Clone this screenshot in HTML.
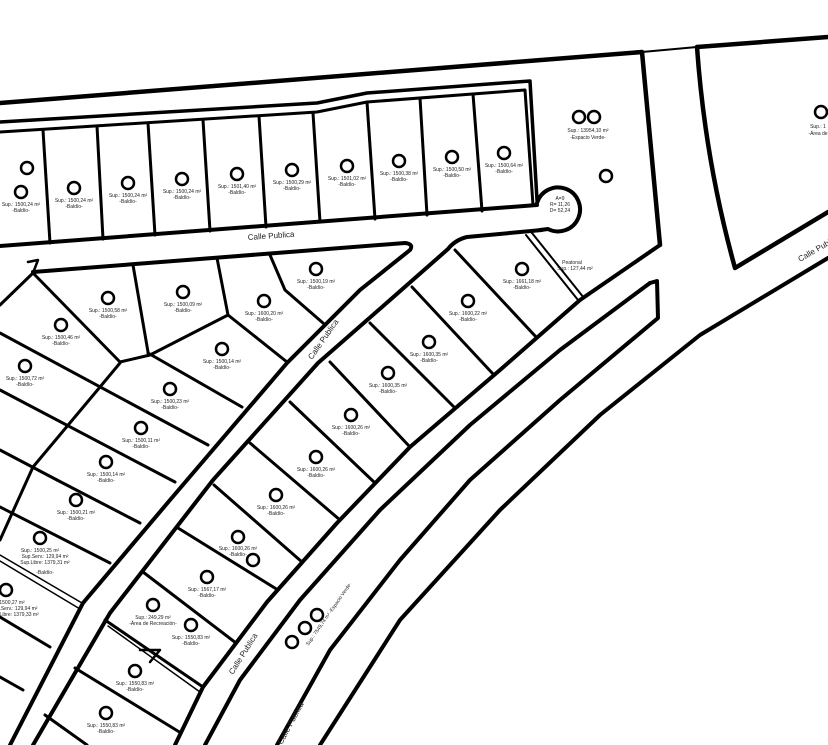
<!DOCTYPE html>
<html><head><meta charset="utf-8"><style>
html,body{margin:0;padding:0;background:#fff;}
svg{display:block;}
text{font-family:"Liberation Sans",sans-serif;fill:#222;}
.t{font-size:5px;text-anchor:middle;}
.c{font-size:8px;}
</style></head><body>
<svg width="828" height="745" viewBox="0 0 828 745" xmlns="http://www.w3.org/2000/svg">
<rect width="828" height="745" fill="#fff"/>
<g fill="none" stroke="#000" stroke-linejoin="round" stroke-linecap="round">
<polyline stroke-width="4.5" points="0,103 642,52 660,245"/>
<polyline stroke-width="2" points="642,52 697,47"/>
<polyline stroke-width="4.5" points="697,47 828,37"/>
<path stroke-width="4.5" d="M697,47 Q705,160 735,268 L828,212"/>
<polyline stroke-width="3.5" points="0,122 317,103 367,93 530,81 537,200"/>
<polyline stroke-width="3" points="0,132 317,112 367,102 525,90 533,205"/>
<polyline stroke-width="4" points="0,246 537,205"/>
<g stroke-width="3">
<line x1="43" y1="130" x2="50" y2="243"/>
<line x1="97" y1="126" x2="103" y2="239"/>
<line x1="148" y1="123" x2="155" y2="235"/>
<line x1="203" y1="120" x2="210" y2="231"/>
<line x1="259" y1="116" x2="266" y2="227"/>
<line x1="313" y1="113" x2="320" y2="222"/>
<line x1="367" y1="102" x2="375" y2="219"/>
<line x1="420" y1="98" x2="427" y2="215"/>
<line x1="473" y1="94" x2="482" y2="211"/>
</g>
<path stroke-width="4" d="M537,203 A22,22 0 1 1 548,229 L540,230"/>
<path stroke-width="4" d="M33,272 L405,243 Q414,244 410,250 L360,290 L287,363 L170,500 L83,603 L10,745"/>
<polyline stroke-width="2.5" points="28,262 38,260 33,273"/>
<path stroke-width="4" d="M542,230 L467,237 Q455,240 448,249 L390,300 L318,363 L213,480 L110,613 L33,745"/>
<!-- L_a -->
<polyline stroke-width="4" points="660,245 580,300 500,370 410,447 337,523 267,602 203,687 175,745"/>
<!-- L_b -->
<polyline stroke-width="4" points="650,283 560,350 470,425 380,510 300,600 240,680 205,745"/>
<!-- median cap + L_m -->
<polyline stroke-width="4" points="650,283 657,281 658,318 560,400 470,480 400,560 330,650 277,745"/>
<!-- L_d -->
<polyline stroke-width="4" points="828,258 700,335 600,415 500,510 400,620 320,745"/>
<line stroke-width="2" x1="526" y1="235" x2="578" y2="300"/>
<line stroke-width="2" x1="532" y1="233" x2="584" y2="298"/>
<g stroke-width="3">
<line x1="455" y1="250" x2="537" y2="338"/>
<line x1="412" y1="287" x2="494" y2="375"/>
<line x1="370" y1="323" x2="455" y2="408"/>
<line x1="330" y1="362" x2="410" y2="447"/>
<line x1="290" y1="402" x2="375" y2="483"/>
<line x1="250" y1="443" x2="340" y2="520"/>
<line x1="214" y1="485" x2="302" y2="562"/>
<line x1="178" y1="528" x2="278" y2="590"/>
<line x1="143" y1="572" x2="236" y2="643"/>
<line x1="105" y1="620" x2="203" y2="687"/>
<line x1="75" y1="668" x2="181" y2="733"/>
<line x1="45" y1="715" x2="87" y2="745"/>
</g>
<line stroke-width="1.5" x1="108" y1="626" x2="200" y2="692"/>
<g stroke-width="3">
<line x1="33" y1="273" x2="0" y2="305"/>
<line x1="33" y1="273" x2="120" y2="362"/>
<line x1="133" y1="265" x2="148" y2="352"/>
<line x1="217" y1="258" x2="228" y2="315"/>
<polyline points="270,255 285,290 323,323"/>
<polyline points="228,315 150,355 120,362"/>
<line x1="228" y1="315" x2="287" y2="362"/>
<polyline points="120,363 100,387 33,467 0,540"/>
<line x1="148" y1="353" x2="242" y2="407"/>
<line x1="0" y1="333" x2="208" y2="445"/>
<line x1="0" y1="390" x2="175" y2="482"/>
<line x1="57" y1="480" x2="140" y2="523"/>
<line x1="0" y1="450" x2="57" y2="480"/>
<line x1="0" y1="507" x2="110" y2="563"/>
<line x1="0" y1="617" x2="50" y2="647"/>
<line x1="0" y1="677" x2="23" y2="690"/>
</g>
<line stroke-width="1.5" x1="0" y1="555" x2="82" y2="603"/>
<line stroke-width="1.5" x1="0" y1="561" x2="80" y2="609"/>
<polyline stroke-width="2.5" points="140,650 160,650 150,662"/>
</g>
<text class="c" transform="translate(248,240) rotate(-4)">Calle Publica</text>
<text class="c" transform="translate(312,360) rotate(-55)">Calle Publica</text>
<text class="c" transform="translate(233,675) rotate(-58)">Calle Publica</text>
<text class="c" transform="translate(282,745) rotate(-62)">Calle Publica</text>
<text class="c" transform="translate(800,262) rotate(-30)">Calle Publica</text>
<g fill="#fff" stroke="#000" stroke-width="2.5">
<circle cx="27" cy="168" r="6"/><circle cx="21" cy="192" r="6"/><circle cx="74" cy="188" r="6"/><circle cx="128" cy="183" r="6"/><circle cx="182" cy="179" r="6"/><circle cx="237" cy="174" r="6"/><circle cx="292" cy="170" r="6"/><circle cx="347" cy="166" r="6"/><circle cx="399" cy="161" r="6"/><circle cx="452" cy="157" r="6"/><circle cx="504" cy="153" r="6"/>
<circle cx="579" cy="117" r="6"/><circle cx="594" cy="117" r="6"/><circle cx="606" cy="176" r="6"/><circle cx="821" cy="112" r="6"/>
<circle cx="316" cy="269" r="6"/><circle cx="522" cy="269" r="6"/><circle cx="108" cy="298" r="6"/><circle cx="183" cy="292" r="6"/><circle cx="264" cy="301" r="6"/><circle cx="468" cy="301" r="6"/><circle cx="61" cy="325" r="6"/><circle cx="222" cy="349" r="6"/><circle cx="429" cy="342" r="6"/><circle cx="388" cy="373" r="6"/><circle cx="351" cy="415" r="6"/><circle cx="316" cy="457" r="6"/><circle cx="276" cy="495" r="6"/><circle cx="238" cy="537" r="6"/><circle cx="253" cy="560" r="6"/><circle cx="207" cy="577" r="6"/><circle cx="153" cy="605" r="6"/><circle cx="191" cy="625" r="6"/><circle cx="135" cy="671" r="6"/><circle cx="106" cy="713" r="6"/><circle cx="25" cy="366" r="6"/><circle cx="170" cy="389" r="6"/><circle cx="141" cy="428" r="6"/><circle cx="106" cy="462" r="6"/><circle cx="76" cy="500" r="6"/><circle cx="40" cy="538" r="6"/><circle cx="6" cy="590" r="6"/><circle cx="292" cy="642" r="6"/><circle cx="305" cy="628" r="6"/><circle cx="317" cy="615" r="6"/>
</g>
<g>
<text class="t" x="21" y="206">Sup.: 1500,24 m²</text><text class="t" x="21" y="212">-Baldío-</text>
<text class="t" x="74" y="202">Sup.: 1500,24 m²</text><text class="t" x="74" y="208">-Baldío-</text>
<text class="t" x="128" y="197">Sup.: 1500,24 m²</text><text class="t" x="128" y="203">-Baldío-</text>
<text class="t" x="182" y="193">Sup.: 1500,24 m²</text><text class="t" x="182" y="199">-Baldío-</text>
<text class="t" x="237" y="188">Sup.: 1501,40 m²</text><text class="t" x="237" y="194">-Baldío-</text>
<text class="t" x="292" y="184">Sup.: 1500,29 m²</text><text class="t" x="292" y="190">-Baldío-</text>
<text class="t" x="347" y="180">Sup.: 1501,02 m²</text><text class="t" x="347" y="186">-Baldío-</text>
<text class="t" x="399" y="175">Sup.: 1500,38 m²</text><text class="t" x="399" y="181">-Baldío-</text>
<text class="t" x="452" y="171">Sup.: 1500,50 m²</text><text class="t" x="452" y="177">-Baldío-</text>
<text class="t" x="504" y="167">Sup.: 1500,64 m²</text><text class="t" x="504" y="173">-Baldío-</text>
<text class="t" x="588" y="132">Sup.: 13954,10 m²</text><text class="t" x="588" y="139">-Espacio Verde-</text>
<text class="t" x="818" y="128">Sup.: 1</text><text class="t" x="818" y="135">-Área de</text>
<text class="t" x="316" y="283">Sup.: 1500,19 m²</text><text class="t" x="316" y="289">-Baldío-</text>
<text class="t" x="522" y="283">Sup.: 1661,18 m²</text><text class="t" x="522" y="289">-Baldío-</text>
<text class="t" x="108" y="312">Sup.: 1500,58 m²</text><text class="t" x="108" y="318">-Baldío-</text>
<text class="t" x="183" y="306">Sup.: 1500,09 m²</text><text class="t" x="183" y="312">-Baldío-</text>
<text class="t" x="264" y="315">Sup.: 1600,20 m²</text><text class="t" x="264" y="321">-Baldío-</text>
<text class="t" x="468" y="315">Sup.: 1600,22 m²</text><text class="t" x="468" y="321">-Baldío-</text>
<text class="t" x="61" y="339">Sup.: 1500,46 m²</text><text class="t" x="61" y="345">-Baldío-</text>
<text class="t" x="222" y="363">Sup.: 1500,14 m²</text><text class="t" x="222" y="369">-Baldío-</text>
<text class="t" x="429" y="356">Sup.: 1600,35 m²</text><text class="t" x="429" y="362">-Baldío-</text>
<text class="t" x="388" y="387">Sup.: 1600,35 m²</text><text class="t" x="388" y="393">-Baldío-</text>
<text class="t" x="351" y="429">Sup.: 1600,26 m²</text><text class="t" x="351" y="435">-Baldío-</text>
<text class="t" x="316" y="471">Sup.: 1600,26 m²</text><text class="t" x="316" y="477">-Baldío-</text>
<text class="t" x="276" y="509">Sup.: 1600,26 m²</text><text class="t" x="276" y="515">-Baldío-</text>
<text class="t" x="238" y="550">Sup.: 1600,26 m²</text><text class="t" x="238" y="556">-Baldío-</text>
<text class="t" x="207" y="591">Sup.: 1567,17 m²</text><text class="t" x="207" y="597">-Baldío-</text>
<text class="t" x="153" y="619">Sup.: 249,29 m²</text><text class="t" x="153" y="625">-Área de Recreación-</text>
<text class="t" x="191" y="639">Sup.: 1550,83 m²</text><text class="t" x="191" y="645">-Baldío-</text>
<text class="t" x="135" y="685">Sup.: 1550,83 m²</text><text class="t" x="135" y="691">-Baldío-</text>
<text class="t" x="106" y="727">Sup.: 1550,83 m²</text><text class="t" x="106" y="733">-Baldío-</text>
<text class="t" x="25" y="380">Sup.: 1500,72 m²</text><text class="t" x="25" y="386">-Baldío-</text>
<text class="t" x="170" y="403">Sup.: 1500,23 m²</text><text class="t" x="170" y="409">-Baldío-</text>
<text class="t" x="141" y="442">Sup.: 1500,11 m²</text><text class="t" x="141" y="448">-Baldío-</text>
<text class="t" x="106" y="476">Sup.: 1500,14 m²</text><text class="t" x="106" y="482">-Baldío-</text>
<text class="t" x="76" y="514">Sup.: 1500,21 m²</text><text class="t" x="76" y="520">-Baldío-</text>
<text class="t" x="40" y="552">Sup.: 1500,25 m²</text><text class="t" x="45" y="558">Sup.Serv.: 129,94 m²</text><text class="t" x="45" y="564">Sup.Libre: 1379,31 m²</text><text class="t" x="45" y="574">-Baldío-</text>
<text class="t" x="12" y="604">1500,27 m²</text><text class="t" x="14" y="610">Sup.Serv.: 129,94 m²</text><text class="t" x="14" y="616">Sup.Libre: 1379,33 m²</text>
<text class="t" x="560" y="200">A=9</text><text class="t" x="560" y="206">R= 11,26</text><text class="t" x="560" y="212">D= 52,24</text>
<text class="t" x="572" y="264">Peatonal</text><text class="t" x="575" y="270">Sup.: 127,44 m²</text>
<text class="t" transform="translate(330,615) rotate(-55)">Sup.: 7549,74 m² -Espacio Verde-</text>
</g>
</svg>
</body></html>
